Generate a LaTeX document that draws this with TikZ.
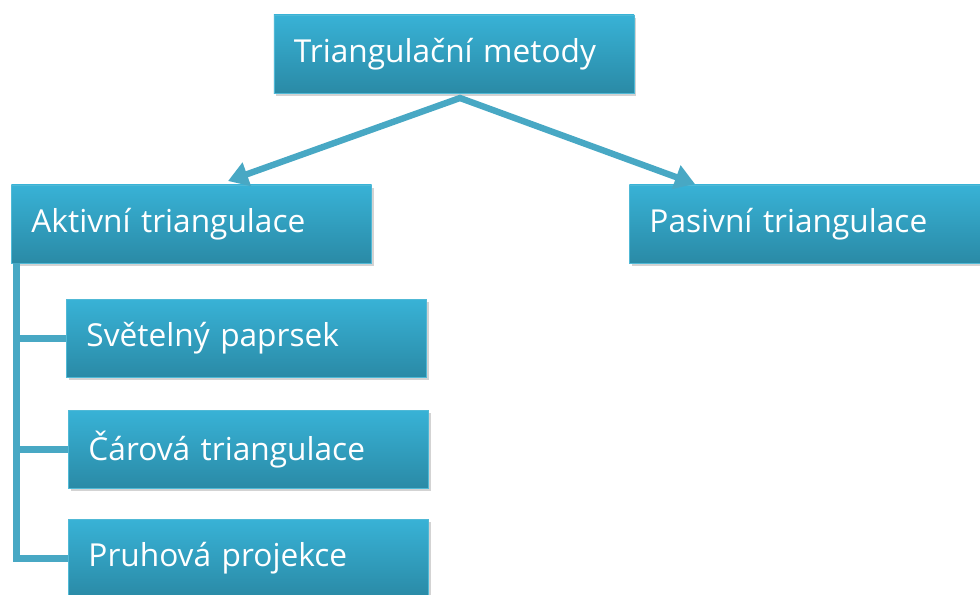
\documentclass[tikz,border=0pt]{standalone}
\usepackage{fontspec}
\setmainfont{Open Sans}
\usetikzlibrary{arrows.meta, shadows, positioning}
\usepackage{xcolor}
\definecolor{boxtop}{RGB}{56,178,214}
\definecolor{boxbot}{RGB}{42,138,166}
\definecolor{boxedge}{RGB}{80,185,214}
\definecolor{conncol}{RGB}{72,168,196}

\begin{document}
\begin{tikzpicture}[x=0.025cm, y=-0.025cm,
		box/.style={draw=boxedge, line width=0.4pt, top color=boxtop, bottom color=boxbot,
			minimum width=8.98cm, minimum height=1.95cm, text width=8.0cm, align=left,
			inner xsep=0.5cm, text=white, font=\fontsize{22.5}{26}\selectfont,
			drop shadow={shadow xshift=1.5pt, shadow yshift=-2pt, opacity=0.35}},
		conn/.style={draw=conncol, line width=0.16cm, line join=miter}]
		\useasboundingbox (0,0) rectangle (980,594);
		
		\node[box] (metody) at (454,54) {Triangulační metody};
		\node[box] (aktiv) at (191.5,224) {Aktivní triangulace};
		\node[box] (pasiv) at (809.5,224) {Pasivní triangulace};
		\node[box] (paprsek) at (246.5,338.5) {Světelný paprsek};
		\node[box] (carova) at (248.5,449.5) {Čárová triangulace};
		\node[box] (pruhova) at (248.5,558.5) {Pruhová projekce};
		
		% rozvetveni
		\coordinate (fork) at (460,98);
		\coordinate (lefttip) at (228,181);
		\coordinate (righttip) at (695,184);
		\draw[conn, {Triangle[length=0.5cm, width=0.6cm]}-{Triangle[length=0.5cm, width=0.6cm]}]
			(lefttip) -- (fork) -- (righttip);
		
		% podvetve aktivni triangulace
		\coordinate (rail) at ([xshift=0.13cm]aktiv.south west);
		\draw[conn] (rail) |- (pruhova.west);
		\draw[conn] (rail |- paprsek.west) -- (paprsek.west);
		\draw[conn] (rail |- carova.west) -- (carova.west);
	\end{tikzpicture}
\end{document}
